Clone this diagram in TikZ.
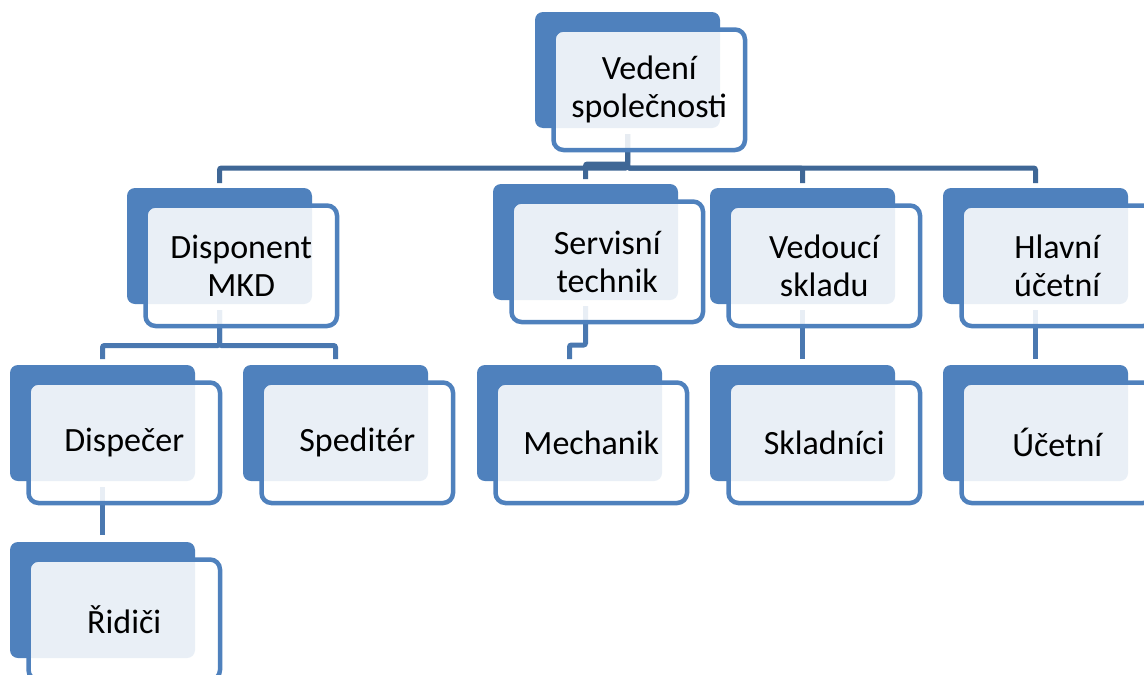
\documentclass[tikz,border=0pt]{standalone}
\usepackage{fontspec}
\setmainfont{Carlito}
\usetikzlibrary{calc}
\definecolor{boxblue}{HTML}{4F81BD}
\definecolor{connA}{HTML}{3F6796}
\definecolor{connB}{HTML}{4A78B0}
\pgfdeclarelayer{paper}
\pgfdeclarelayer{background}
\pgfsetlayers{paper,background,main}
\tikzset{
  backbox/.style={draw=none, fill=boxblue, rounded corners=8pt, minimum width=185pt, minimum height=116pt, inner sep=0pt, outer sep=0pt, anchor=north west},
  frontbox/.style={draw=boxblue, line width=4.5pt, fill=white, fill opacity=0.88, text opacity=1, rounded corners=10pt, minimum width=191.5pt, minimum height=120.5pt, inner sep=0pt, outer sep=0pt, anchor=north west, align=center, font=\fontsize{34}{38}\selectfont, text=black},
  connone/.style={draw=connA, line width=5pt, rounded corners=2pt},
  conntwo/.style={draw=connB, line width=5pt, rounded corners=2pt},
}
\newcommand\orgbox[4]{%
  \node[backbox] (#1-b) at (#2,#3) {};
  \node[frontbox] (#1) at ($(#2,#3)+(18.5,17.5)$) {#4};
}
\begin{document}
\begin{tikzpicture}[x=1pt,y=-1pt]
\useasboundingbox (0,0) rectangle (1144,675);
\begin{pgfonlayer}{paper}
  \fill[white] (0,0) rectangle (1144,675);
\end{pgfonlayer}
\clip (0,0) rectangle (1144,675);
\orgbox{vede}{535}{12}{Vedení\\společnosti}
\orgbox{dis}{127}{188}{Disponent\\MKD}
\orgbox{ser}{493}{184}{Servisní\\technik}
\orgbox{ved}{710}{188}{Vedoucí\\skladu}
\orgbox{hla}{943}{188}{Hlavní\\účetní}
\orgbox{dsp}{10}{365}{Dispečer}
\orgbox{spe}{243}{365}{Speditér}
\orgbox{mech}{477}{365}{Mechanik}
\orgbox{skl}{710}{365}{Skladníci}
\orgbox{uce}{943}{365}{Účetní}
\orgbox{rid}{10}{542}{Řidiči}
\begin{pgfonlayer}{background}
  \foreach \c in {dis,ser,ved,hla}
    \draw[connone] ($(vede-b.south)+(0,6)$) |- ($(\c-b.north)+(0,-20)$) -- ($(\c-b.north)+(0,-5)$);
  \foreach \c in {dsp,spe}
    \draw[conntwo] ($(dis-b.south)+(0,6)$) |- ($(\c-b.north)+(0,-19.5)$) -- ($(\c-b.north)+(0,-6)$);
  \draw[conntwo] ($(ser-b.south)+(0,6)$) |- ($(mech-b.north)+(0,-20)$) -- ($(mech-b.north)+(0,-6)$);
  \draw[conntwo] ($(ved-b.south)+(0,6)$) -- ($(skl-b.north)+(0,-6)$);
  \draw[conntwo] ($(hla-b.south)+(0,6)$) -- ($(uce-b.north)+(0,-6)$);
  \draw[conntwo] ($(dsp-b.south)+(0,6)$) -- ($(rid-b.north)+(0,-7)$);
\end{pgfonlayer}
\end{tikzpicture}
\end{document}
